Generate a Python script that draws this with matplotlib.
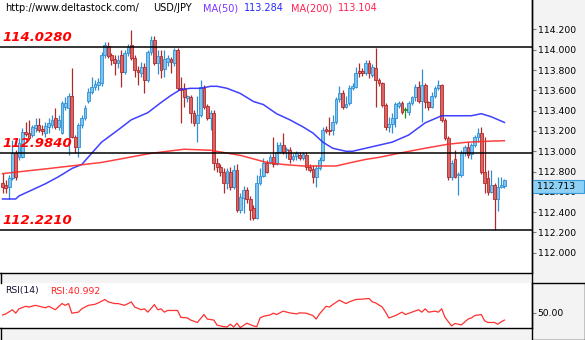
import numpy as np
import matplotlib
matplotlib.use("Agg")
import matplotlib.pyplot as plt
from matplotlib.patches import Rectangle
from matplotlib.lines import Line2D
from matplotlib.transforms import blended_transform_factory

# USD/JPY candles
opens = [112.69, 112.67, 112.65, 112.74, 112.98, 112.94, 112.94, 113.19, 113.18, 113.16,
         113.23, 113.26, 113.22, 113.18, 113.24, 113.26, 113.33, 113.24, 113.18, 113.44,
         113.43, 113.54, 113.14, 113.04, 113.26, 113.33, 113.50, 113.58, 113.63, 113.65,
         113.67, 113.95, 114.04, 113.95, 113.91, 113.87, 113.95, 113.78, 113.97, 114.05,
         113.92, 113.80, 113.77, 113.83, 113.70, 113.98, 114.10, 113.87, 113.94, 113.81,
         113.88, 113.91, 113.87, 114.00, 113.62, 113.61, 113.52, 113.53, 113.38, 113.28,
         113.36, 113.62, 113.45, 113.33, 113.38, 112.88, 112.85, 112.80, 112.69, 112.80,
         112.65, 112.82, 112.42, 112.54, 112.62, 112.53, 112.44, 112.34, 112.69, 112.76,
         112.88, 112.88, 112.94, 112.87, 112.99, 113.06, 113.01, 113.01, 112.92, 112.95,
         112.96, 112.93, 112.96, 112.85, 112.83, 112.75, 112.84, 112.91, 113.22, 113.21,
         113.21, 113.29, 113.51, 113.57, 113.44, 113.48, 113.62, 113.63, 113.79, 113.79,
         113.77, 113.87, 113.75, 113.82, 113.70, 113.67, 113.46, 113.24, 113.27, 113.33,
         113.45, 113.48, 113.41, 113.39, 113.48, 113.53, 113.63, 113.50, 113.65, 113.49,
         113.44, 113.54, 113.62, 113.65, 113.31, 113.13, 112.75, 112.92, 112.77, 112.77,
         112.98, 113.04, 112.97, 113.06, 113.14, 113.18, 112.80, 112.74, 112.60, 112.67,
         112.53, 112.65, 112.66]
highs = [112.79, 112.72, 112.77, 113.11, 113.01, 113.13, 113.23, 113.29, 113.31, 113.26,
         113.33, 113.33, 113.26, 113.29, 113.33, 113.36, 113.43, 113.36, 113.50, 113.53,
         113.57, 113.82, 113.16, 113.28, 113.36, 113.46, 113.62, 113.73, 113.70, 113.72,
         113.98, 114.08, 114.08, 113.97, 113.95, 113.95, 114.00, 114.00, 114.06, 114.19,
         113.95, 113.84, 113.88, 113.87, 114.00, 114.14, 114.14, 114.00, 114.00, 114.00,
         113.95, 113.93, 114.02, 114.02, 113.73, 113.67, 113.55, 113.55, 113.41, 113.54,
         113.70, 113.65, 113.47, 113.41, 113.41, 112.93, 112.87, 112.84, 112.84, 112.85,
         112.86, 112.87, 112.59, 112.66, 112.65, 112.56, 112.47, 112.77, 112.84, 112.93,
         112.91, 112.97, 113.14, 113.09, 113.09, 113.18, 113.04, 113.04, 112.98, 113.00,
         112.99, 112.99, 112.99, 112.87, 112.86, 112.86, 112.94, 113.24, 113.25, 113.34,
         113.36, 113.53, 113.64, 113.60, 113.54, 113.65, 113.67, 113.83, 113.87, 113.82,
         113.90, 113.90, 113.86, 114.02, 113.72, 113.68, 113.48, 113.34, 113.38, 113.49,
         113.50, 113.50, 113.44, 113.50, 113.54, 113.66, 113.69, 113.81, 113.67, 113.50,
         113.58, 113.64, 113.70, 113.66, 113.33, 113.15, 112.91, 113.01, 112.80, 113.01,
         113.06, 113.09, 113.08, 113.16, 113.23, 113.24, 113.14, 112.82, 112.82, 112.69,
         112.75, 112.75, 112.73]
lows = [112.59, 112.59, 112.53, 112.72, 112.72, 112.91, 112.93, 113.15, 113.11, 113.14,
        113.19, 113.19, 113.16, 113.14, 113.18, 113.23, 113.22, 113.21, 113.17, 113.41,
        112.96, 113.13, 112.98, 112.94, 113.23, 113.31, 113.48, 113.56, 113.60, 113.60,
        113.64, 113.92, 113.92, 113.85, 113.75, 113.82, 113.63, 113.76, 113.94, 113.90,
        113.73, 113.65, 113.73, 113.57, 113.68, 113.95, 113.85, 113.76, 113.72, 113.73,
        113.84, 113.77, 113.84, 113.60, 113.28, 113.44, 113.49, 113.28, 113.25, 113.09,
        113.34, 113.42, 113.31, 113.21, 112.82, 112.80, 112.76, 112.59, 112.63, 112.62,
        112.63, 112.40, 112.39, 112.39, 112.49, 112.32, 112.32, 112.33, 112.67, 112.75,
        112.79, 112.87, 112.85, 112.86, 112.98, 112.97, 112.93, 112.88, 112.90, 112.91,
        112.91, 112.91, 112.82, 112.80, 112.69, 112.65, 112.82, 112.90, 113.18, 113.16,
        113.16, 113.27, 113.49, 113.42, 113.43, 113.46, 113.60, 113.62, 113.73, 113.74,
        113.75, 113.72, 113.73, 113.44, 113.64, 113.44, 113.21, 113.19, 113.18, 113.24,
        113.43, 113.37, 113.33, 113.36, 113.46, 113.50, 113.48, 113.29, 113.43, 113.41,
        113.43, 113.52, 113.60, 113.29, 113.11, 112.72, 112.72, 112.74, 112.57, 112.75,
        112.95, 112.93, 112.92, 113.04, 113.09, 112.78, 112.59, 112.57, 112.59, 112.22,
        112.41, 112.64, 112.64]
closes = [112.65, 112.64, 112.74, 112.98, 112.75, 113.08, 113.19, 113.17, 113.13, 113.24,
          113.26, 113.21, 113.20, 113.25, 113.28, 113.31, 113.24, 113.31, 113.48, 113.48,
          113.54, 113.14, 113.04, 113.26, 113.33, 113.43, 113.58, 113.63, 113.66, 113.68,
          113.95, 114.05, 113.94, 113.90, 113.87, 113.90, 113.78, 113.97, 114.03, 113.92,
          113.80, 113.78, 113.83, 113.70, 113.98, 114.10, 113.87, 113.94, 113.80, 113.91,
          113.92, 113.88, 114.00, 113.62, 113.60, 113.53, 113.54, 113.38, 113.28, 113.36,
          113.63, 113.44, 113.33, 113.38, 112.88, 112.85, 112.80, 112.69, 112.81, 112.65,
          112.82, 112.42, 112.55, 112.62, 112.53, 112.42, 112.34, 112.69, 112.76, 112.88,
          112.80, 112.94, 112.87, 112.99, 113.06, 112.99, 113.02, 112.92, 112.95, 112.98,
          112.93, 112.97, 112.85, 112.82, 112.75, 112.84, 112.91, 113.21, 113.20, 113.20,
          113.29, 113.51, 113.57, 113.44, 113.47, 113.62, 113.64, 113.77, 113.77, 113.77,
          113.87, 113.77, 113.83, 113.70, 113.67, 113.46, 113.24, 113.27, 113.33, 113.47,
          113.48, 113.39, 113.41, 113.48, 113.53, 113.63, 113.50, 113.65, 113.49, 113.44,
          113.54, 113.62, 113.65, 113.31, 113.13, 112.75, 112.88, 112.75, 112.78, 112.98,
          113.04, 112.96, 113.06, 113.14, 113.18, 112.80, 112.69, 112.60, 112.67, 112.53,
          112.65, 112.67, 112.713]

# moving averages (bar number, value)
ma50_bar = [0, 4, 5, 9, 13, 17, 21, 24, 27, 30, 35, 39, 44, 48, 51, 54, 57, 60, 63, 65,
            68, 72, 76, 79, 83, 87, 91, 94, 97, 100, 104, 106, 110, 114, 118, 123, 128, 133, 138, 142,
            145, 148, 152]
ma50_val = [112.53, 112.53, 112.56, 112.62, 112.68, 112.75, 112.83, 112.87, 112.98, 113.09,
            113.21, 113.31, 113.38, 113.48, 113.55, 113.61, 113.62, 113.62, 113.64, 113.64,
            113.62, 113.57, 113.49, 113.46, 113.37, 113.31, 113.24, 113.18, 113.09, 113.03,
            113.00, 113.00, 113.03, 113.06, 113.09, 113.16, 113.28, 113.35, 113.35, 113.35,
            113.37, 113.34, 113.284]
ma200_bar = [0, 14, 30, 45, 55, 63, 72, 80, 85, 91, 101, 105, 110, 114, 120, 128, 135, 141, 148, 152]
ma200_val = [112.78, 112.83, 112.89, 112.98, 113.02, 113.01, 112.96, 112.89, 112.87, 112.855,
             112.855, 112.885, 112.92, 112.94, 112.98, 113.03, 113.07, 113.09, 113.10, 113.104]

# RSI(14)
rsi_bar = [0, 1, 3, 4, 5, 7, 8, 10, 12, 13,
           14, 16, 18, 19, 20, 21, 23, 24, 26, 28,
           29, 31, 32, 34, 35, 37, 39, 40, 42, 43,
           44, 46, 47, 48, 49, 50, 53, 54, 56, 57,
           59, 61, 62, 64, 65, 67, 68, 69, 70, 71,
           72, 74, 76, 77, 78, 79, 81, 82, 83, 85,
           87, 89, 90, 92, 94, 95, 96, 98, 99, 100,
           102, 104, 105, 107, 109, 111, 112, 113, 115, 116,
           117, 119, 121, 122, 124, 126, 127, 128, 129, 131,
           132, 133, 134, 136, 137, 139, 141, 142, 143, 145,
           146, 147, 149, 150, 151, 152]
rsi_val = [47.4, 48.7, 53.9, 49.6, 55.1, 58.2, 57.3, 59.4, 57.3, 56.4,
           58.2, 53.9, 61.6, 59.4, 61.6, 49.6, 50.9, 55.1, 59.4, 60.7,
           62.4, 66.7, 63.7, 61.6, 61.6, 59.4, 63.7, 57.3, 53.9, 55.1,
           50.9, 60.3, 53.9, 55.1, 50.9, 53.0, 53.0, 44.4, 43.6, 41.0,
           38.0, 47.9, 42.3, 41.0, 34.6, 32.8, 32.4, 35.8, 32.4, 37.1,
           31.6, 37.1, 33.7, 32.8, 43.6, 45.7, 47.4, 49.6, 47.9, 52.1,
           50.0, 48.7, 50.0, 49.6, 46.6, 42.3, 48.7, 58.2, 57.3, 60.3,
           65.9, 61.6, 63.7, 66.7, 67.2, 68.0, 63.7, 62.4, 57.3, 50.9,
           43.6, 46.6, 50.9, 47.9, 50.9, 53.9, 50.9, 55.1, 50.9, 52.1,
           50.9, 55.1, 44.4, 33.7, 36.7, 35.0, 42.3, 43.6, 46.6, 47.9,
           40.1, 38.0, 38.0, 35.8, 38.8, 40.992]

levels = [114.0280, 112.9840, 112.2210]
price_ticks = [112.0, 112.2, 112.4, 112.6, 112.8, 113.0, 113.2, 113.4, 113.6, 113.8, 114.0, 114.2]

W, H = 585, 340
fig = plt.figure(figsize=(W / 100, H / 100), dpi=100, facecolor="#f3f3f3")

def fx(px):
    return px / W

def fy(py):
    return 1 - py / H

ax = fig.add_axes([0, fy(272.7), fx(531.5), 272.7 / H])
rsi_ax = fig.add_axes([0, fy(328), fx(531.5), 45 / H])

o = np.array(opens)
h = np.array(highs)
l = np.array(lows)
c = np.array(closes)
bars = np.arange(len(c))
up = c > o + 0.004
down = c < o - 0.004
flat = ~(up | down)

for mask, edge, face in [(up, "#2f8fd2", "#7cc3f0"),
                         (down, "#b02a2a", "#dc6464"),
                         (flat, "#1f8f1f", "#1f8f1f")]:
    ax.vlines(bars[mask], l[mask], h[mask], color=edge, lw=0.9, zorder=2)
    body_lo = np.minimum(o, c)[mask]
    body_h = np.maximum(np.abs(c - o)[mask], 0.008)
    ax.bar(bars[mask], body_h, bottom=body_lo, width=0.84, color=face,
           edgecolor=edge, linewidth=0.6, zorder=3)

ax.plot(ma50_bar, ma50_val, color="#2b2bff", lw=1.1, alpha=0.9, zorder=4)
ax.plot(ma200_bar, ma200_val, color="#ff2b2b", lw=1.1, alpha=0.9, zorder=4)

for lvl in levels:
    ax.axhline(lvl, color="black", lw=1.1, zorder=5)
    ax.annotate(f"{lvl:.4f}", xy=(0, lvl), xycoords=("axes fraction", "data"),
                xytext=(2, 4.5), textcoords="offset points", color="red",
                fontsize=9.5, fontweight="bold", fontstyle="italic",
                va="baseline", zorder=6)

ax.set_xlim(-0.76, 160.2)
ax.set_ylim(111.804, 114.49)
ax.set_xticks([])
ax.yaxis.tick_right()
ax.set_yticks(price_ticks)
ax.set_yticklabels([f"{t:.3f}" for t in price_ticks])
ax.tick_params(axis="y", direction="out", length=3, width=0.8, color="#7f7f7f",
               labelsize=6.7, pad=1.5)
for side in ["top", "left"]:
    ax.spines[side].set_visible(False)
for side in ["right", "bottom"]:
    ax.spines[side].set_color("black")
    ax.spines[side].set_linewidth(1.0)

# last price marker on the price scale
trans = blended_transform_factory(fig.transFigure, ax.transData)
ax.add_patch(Rectangle((fx(531.5), c[-1] - 0.128), fx(584) - fx(531.5), 0.128,
                       transform=trans, facecolor="#8fd0f5", edgecolor="#3a9ad6",
                       lw=0.8, zorder=10, clip_on=False))
ax.text(fx(537), c[-1] - 0.064, f"{c[-1]:.3f}", transform=trans, va="center",
        fontsize=6.7, color="black", zorder=11, clip_on=False)

# RSI panel
rsi_ax.plot(rsi_bar, rsi_val, color="#ff3030", lw=0.9)
rsi_ax.set_xlim(-0.76, 160.2)
rsi_ax.set_ylim(31.1, 87.3)
rsi_ax.set_xticks([])
rsi_ax.yaxis.tick_right()
rsi_ax.set_yticks([50])
rsi_ax.set_yticklabels(["50.00"])
rsi_ax.tick_params(axis="y", direction="out", length=3, width=0.8, color="#7f7f7f",
                   labelsize=6.7, pad=1.5)
for side in ["top", "left"]:
    rsi_ax.spines[side].set_visible(False)
for side in ["right", "bottom"]:
    rsi_ax.spines[side].set_color("black")
    rsi_ax.spines[side].set_linewidth(1.0)
rsi_ax.text(fx(5), fy(291), "RSI(14)", transform=fig.transFigure, fontsize=6.7,
            color="#111133", va="center")
rsi_ax.text(fx(50), fy(291), f"RSI:{rsi_val[-1]:.3f}", transform=fig.transFigure,
            fontsize=6.7, color="#ff2020", va="center")

# header
fig.text(fx(5), fy(8.3), "http://www.deltastock.com/", fontsize=7, va="center", color="black")
fig.text(fx(153), fy(8.3), "USD/JPY", fontsize=7, va="center", color="black")
fig.text(fx(203), fy(8.3), "MA(50)", fontsize=7, va="center", color="#7a33ff")
fig.text(fx(244), fy(8.3), f"{ma50_val[-1]:.3f}", fontsize=7, va="center", color="#2a2aff")
fig.text(fx(291), fy(8.3), "MA(200)", fontsize=7, va="center", color="#ff2050")
fig.text(fx(338), fy(8.3), f"{ma200_val[-1]:.3f}", fontsize=7, va="center", color="#ff2050")

# panel borders
for xs, ys in [((531.5, 531.5), (0, 340)),
               ((531.5, 585), (283, 283)),
               ((584.5, 584.5), (283, 340)),
               ((531.5, 585), (339.5, 339.5)),
               ((0.5, 0.5), (272.7, 283)),
               ((0.5, 0.5), (328, 340))]:
    fig.add_artist(Line2D([fx(x) for x in xs], [fy(y) for y in ys],
                          transform=fig.transFigure, color="black", lw=1.0))

fig.savefig("out.png", dpi=100, facecolor=fig.get_facecolor())
